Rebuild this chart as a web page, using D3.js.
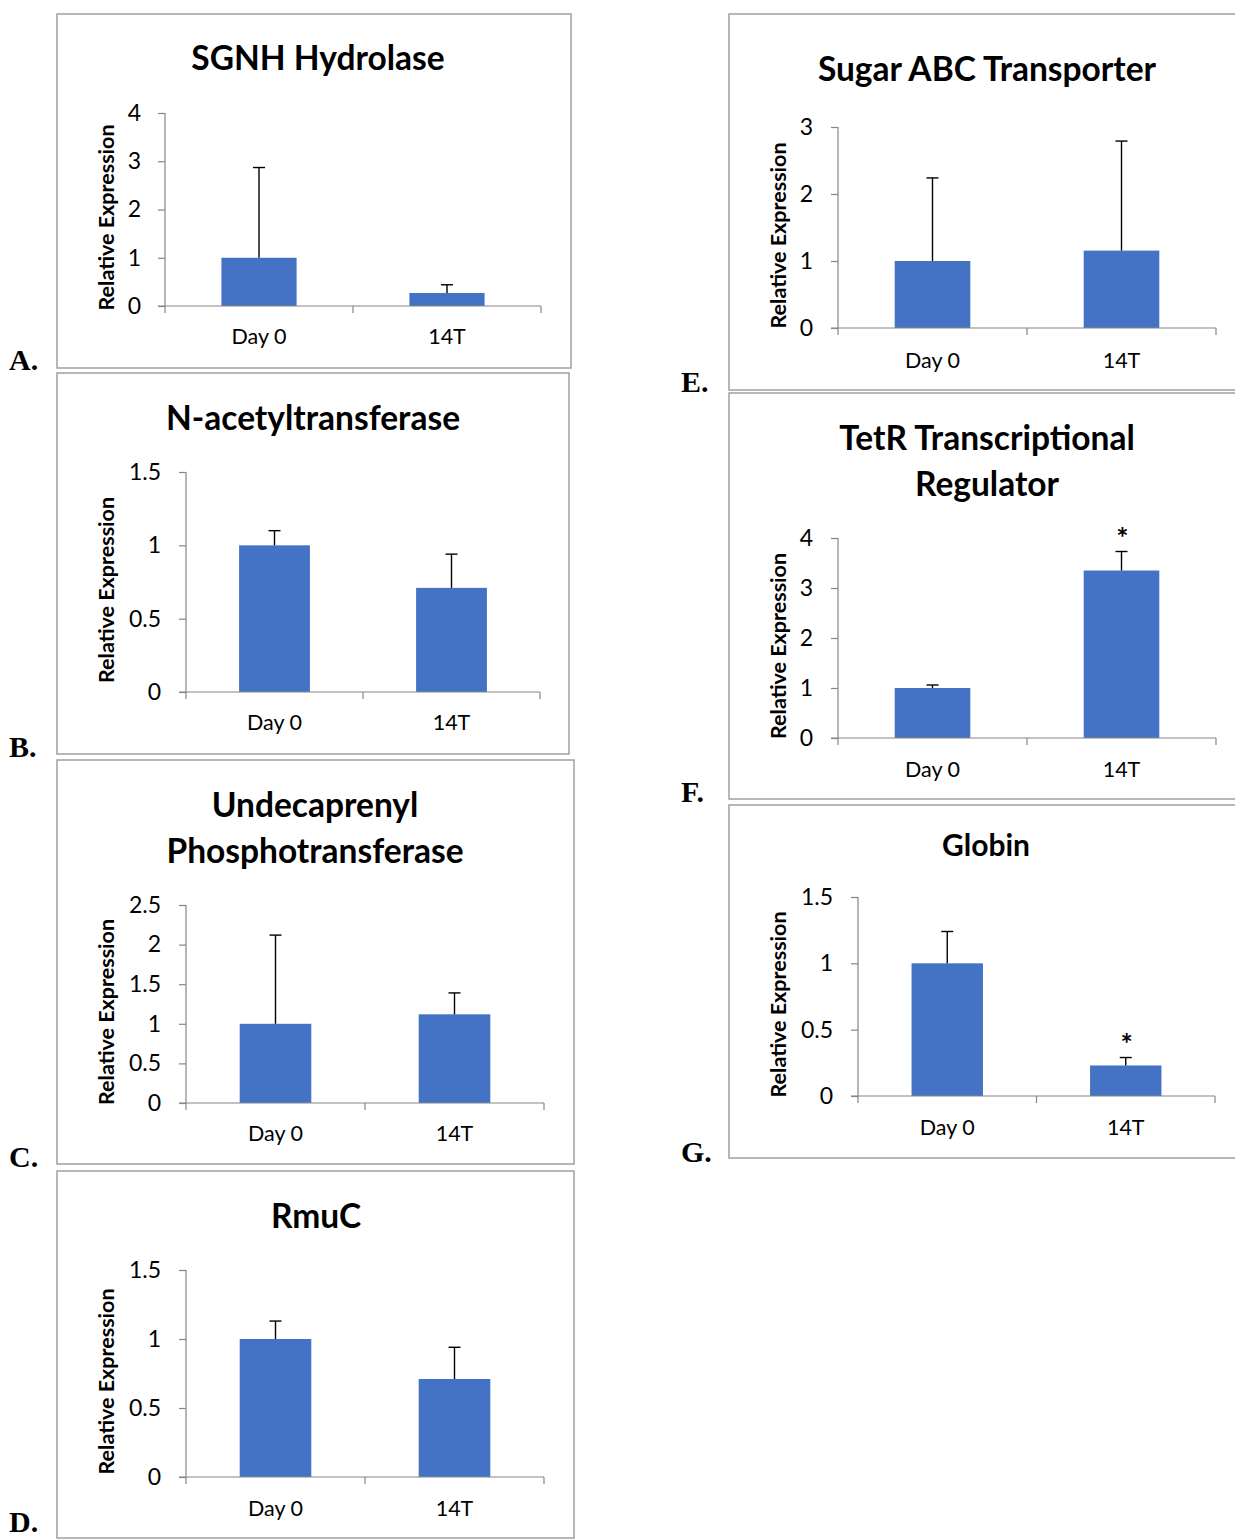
<!DOCTYPE html>
<html><head><meta charset="utf-8">
<script src="https://cdn.jsdelivr.net/npm/d3@7"></script>
<style>
html,body{margin:0;padding:0;background:#fff;}
svg{display:block;}
</style></head>
<body>
<svg id="chart" width="1235" height="1539"></svg>
<script>
// ---- DATA ----
const categories = ["Day 0", "14T"];
const panelLetters = ["A.", "B.", "C.", "D.", "E.", "F.", "G."];
const panelTitles = [
  ["SGNH Hydrolase"],
  ["N-acetyltransferase"],
  ["Undecaprenyl", "Phosphotransferase"],
  ["RmuC"],
  ["Sugar ABC Transporter"],
  ["TetR Transcriptional", "Regulator"],
  ["Globin"]
];
const meanValues = [
  [1.0, 0.27],
  [1.0, 0.71],
  [1.0, 1.12],
  [1.0, 0.71],
  [1.0, 1.155],
  [1.0, 3.35],
  [1.0, 0.23]
];
const errorValues = [
  [1.87, 0.17],
  [0.10, 0.23],
  [1.12, 0.27],
  [0.13, 0.23],
  [1.24, 1.635],
  [0.06, 0.38],
  [0.24, 0.06]
];
const yTickValues = [
  [0, 1, 2, 3, 4],
  [0, 0.5, 1, 1.5],
  [0, 0.5, 1, 1.5, 2, 2.5],
  [0, 0.5, 1, 1.5],
  [0, 1, 2, 3],
  [0, 1, 2, 3, 4],
  [0, 0.5, 1, 1.5]
];
const significance = [
  ["", ""], ["", ""], ["", ""], ["", ""], ["", ""], ["", "*"], ["", "*"]
];
const yAxisLabel = "Relative Expression";

// ---- LAYOUT (positions / sizes) ----
const layout = [
  {frame:[57,14,571,368],  plot:[165,541,113,306],  titleX:318, titleY:[58],      titleSize:33.5, catY:336,  yLabX:106, tickRight:141, letter:[9,370]},
  {frame:[57,373,569,754], plot:[186,540,472,692],  titleX:313, titleY:[418],     titleSize:33.5, catY:722,  yLabX:106, tickRight:161, letter:[9,757]},
  {frame:[57,760,574,1164],plot:[186,544,905,1103], titleX:315, titleY:[805,851], titleSize:33.5, catY:1133, yLabX:106, tickRight:161, letter:[9,1167]},
  {frame:[57,1171,574,1538],plot:[186,544,1270,1477],titleX:316, titleY:[1216],   titleSize:33.5, catY:1508, yLabX:106, tickRight:161, letter:[9,1532]},
  {frame:[729,14,1245,390], plot:[838,1216,127,328], titleX:987, titleY:[69],     titleSize:33.5, catY:360,  yLabX:778, tickRight:813, letter:[681,392]},
  {frame:[729,393,1245,799],plot:[838,1216,538,738], titleX:987, titleY:[438,484],titleSize:33.5, catY:769,  yLabX:778, tickRight:813, letter:[681,802]},
  {frame:[729,805,1245,1158],plot:[858,1215,897,1096],titleX:986, titleY:[845],   titleSize:30, catY:1127, yLabX:778, tickRight:833, letter:[681,1162]}
];

const FONT = "Lato, 'Open Sans', sans-serif";
const BAR = "#4472C4";
const AXIS = "#868686";
const FRAME = "#a0a0a0";

const svg = d3.select("#chart");

layout.forEach((L, i) => {
  const g = svg.append("g");
  const [fx0, fy0, fx1, fy1] = L.frame;
  g.append("rect").attr("x", fx0).attr("y", fy0).attr("width", fx1 - fx0).attr("height", fy1 - fy0)
    .attr("fill", "none").attr("stroke", FRAME).attr("stroke-width", 1.5);

  const [px0, px1, py0, py1] = L.plot;
  const ticks = yTickValues[i];
  const x = d3.scaleBand().domain(categories).range([px0, px1]).paddingInner(0.6).paddingOuter(0.3);
  const y = d3.scaleLinear().domain([0, d3.max(ticks)]).range([py1, py0]);

  // title
  panelTitles[i].forEach((t, k) => {
    g.append("text").attr("x", L.titleX).attr("y", L.titleY[k]).attr("dy", "0.35em")
      .attr("text-anchor", "middle").attr("font-family", FONT).attr("font-weight", 700)
      .attr("font-size", L.titleSize).attr("fill", "#000").text(t);
  });

  // bars
  g.selectAll("rect.bar").data(categories).join("rect").attr("class", "bar")
    .attr("x", d => x(d)).attr("width", x.bandwidth())
    .attr("y", (d, j) => y(meanValues[i][j]))
    .attr("height", (d, j) => y(0) - y(meanValues[i][j]))
    .attr("fill", BAR);

  // y axis
  const yAxis = d3.axisLeft(y).tickValues(ticks).tickSize(7).tickPadding(0).tickFormat(d3.format("~g"));
  const ya = g.append("g").attr("transform", `translate(${px0},0)`).call(yAxis);
  ya.select(".domain").attr("stroke", AXIS).attr("stroke-width", 1.2).attr("d", `M0,${py1}V${py0}`);
  ya.selectAll(".tick line").attr("stroke", AXIS).attr("stroke-width", 1.2);
  ya.selectAll(".tick text").attr("x", L.tickRight - px0).attr("font-family", FONT)
    .attr("font-size", 23).attr("fill", "#000").attr("text-anchor", "end");

  // x axis with boundary ticks
  const xa = g.append("g");
  xa.append("line").attr("x1", px0 - 7).attr("x2", px1).attr("y1", py1).attr("y2", py1)
    .attr("stroke", AXIS).attr("stroke-width", 1.2);
  const bounds = [px0, (px0 + px1) / 2, px1];
  xa.selectAll("line.xt").data(bounds).join("line").attr("class", "xt")
    .attr("x1", d => d).attr("x2", d => d).attr("y1", py1).attr("y2", py1 + 7)
    .attr("stroke", AXIS).attr("stroke-width", 1.2);
  xa.selectAll("text.cat").data(categories).join("text").attr("class", "cat")
    .attr("x", d => x(d) + x.bandwidth() / 2).attr("y", L.catY).attr("dy", "0.35em")
    .attr("text-anchor", "middle").attr("font-family", FONT).attr("font-size", 21.5).attr("fill", "#000")
    .text(d => d);

  // error bars (upper only)
  categories.forEach((c, j) => {
    const cx = x(c) + x.bandwidth() / 2;
    const top = y(meanValues[i][j] + errorValues[i][j]);
    g.append("line").attr("x1", cx).attr("x2", cx).attr("y1", y(meanValues[i][j])).attr("y2", top)
      .attr("stroke", "#000").attr("stroke-width", 1.4);
    g.append("line").attr("x1", cx - 6).attr("x2", cx + 6).attr("y1", top).attr("y2", top)
      .attr("stroke", "#000").attr("stroke-width", 1.4);
    if (significance[i][j]) {
      g.append("text").attr("x", cx + 1).attr("y", top - 14).attr("dy", "0.35em")
        .attr("text-anchor", "middle").attr("font-family", FONT).attr("font-weight", 700)
        .attr("font-size", 29).text(significance[i][j]);
    }
  });

  // y label
  g.append("text").attr("transform", `translate(${L.yLabX},${(py0 + py1) / 2 + 8}) rotate(-90)`)
    .attr("dy", "0.35em").attr("text-anchor", "middle").attr("font-family", FONT).attr("font-weight", 700)
    .attr("font-size", 21.5).attr("fill", "#000").text(yAxisLabel);

  // panel letter
  g.append("text").attr("x", L.letter[0]).attr("y", L.letter[1])
    .attr("font-family", "'Liberation Serif', 'Times New Roman', serif").attr("font-weight", 700)
    .attr("font-size", 30).attr("fill", "#000").text(panelLetters[i]);
});
</script>
</body></html>
